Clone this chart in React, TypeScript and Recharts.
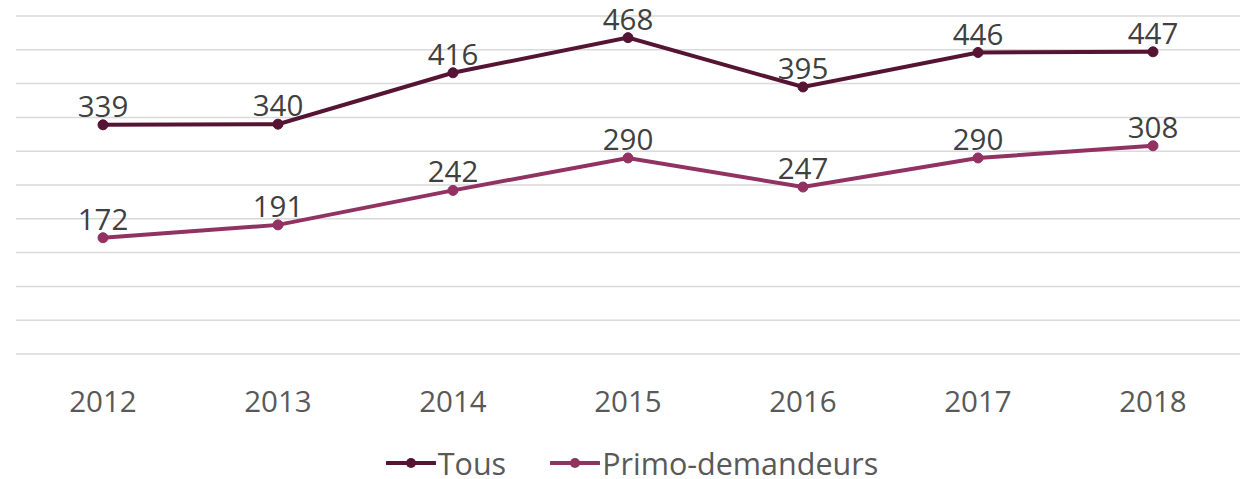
import { LineChart, Line, XAxis, YAxis, CartesianGrid, Legend, LabelList } from "recharts";

const years = ["2012", "2013", "2014", "2015", "2016", "2017", "2018"];
const tous = [339, 340, 416, 468, 395, 446, 447];
const primo = [172, 191, 242, 290, 247, 290, 308];
const yTicks = [0, 50, 100, 150, 200, 250, 300, 350, 400, 450, 500];

const series = [
  { key: "tous", name: "Tous", color: "#561435" },
  { key: "primo", name: "Primo-demandeurs", color: "#913262" },
];

const data = years.map((year, i) => ({ year, tous: tous[i], primo: primo[i] }));

const font = "'Open Sans', 'Noto Sans', sans-serif";

function LegendBox() {
  return (
    <div style={{ display: "flex", justifyContent: "center", alignItems: "center", paddingTop: 20, paddingLeft: 8, fontFamily: font, fontSize: 30.5, color: "#595959" }}>
      {series.map((s, i) => (
        <div key={s.key} style={{ display: "flex", alignItems: "center", marginLeft: i ? 44 : 0 }}>
          <svg width={50} height={14} style={{ marginRight: 2 }}>
            <line x1={1} y1={7} x2={49} y2={7} stroke={s.color} strokeWidth={4} strokeLinecap="round" />
            <circle cx={25} cy={7} r={5} fill={s.color} />
          </svg>
          <span style={{ lineHeight: "28px" }}>{s.name}</span>
        </div>
      ))}
    </div>
  );
}

export default function App() {
  return (
    <div style={{ position: "absolute", left: 0, top: 0, width: 1243, height: 479, background: "#fff" }}>
      <LineChart width={1243} height={479} data={data} margin={{ top: 16, right: 3, left: 16, bottom: 0 }}>
        <CartesianGrid vertical={false} stroke="#d9d9d9" strokeWidth={1.5} />
        <XAxis
          dataKey="year"
          axisLine={false}
          tickLine={false}
          height={75}
          tickMargin={31}
          padding={{ left: 87, right: 87 }}
          tick={{ fontSize: 29.5, fill: "#595959", fontFamily: font }}
        />
        <YAxis hide domain={[0, 500]} ticks={yTicks} />
        <Legend verticalAlign="bottom" height={50} content={<LegendBox />} />
        {series.map((s) => (
          <Line
            key={s.key}
            dataKey={s.key}
            name={s.name}
            stroke={s.color}
            strokeWidth={4}
            dot={{ r: 5, fill: s.color, stroke: s.color, strokeWidth: 1 }}
            activeDot={false}
            isAnimationActive={false}
          >
            <LabelList dataKey={s.key} position="top" offset={8} fill="#404040" fontSize={29.5} fontFamily={font} />
          </Line>
        ))}
      </LineChart>
    </div>
  );
}
